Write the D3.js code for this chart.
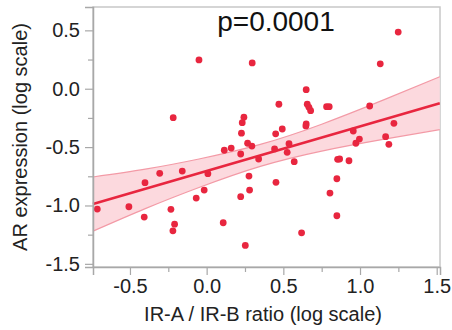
<!DOCTYPE html>
<html>
<head>
<meta charset="utf-8">
<script src="https://cdn.jsdelivr.net/npm/d3@7"></script>
<style>
  body { margin: 0; background: #fff; }
  svg { display: block; font-family: "Liberation Sans", Arial, sans-serif; }
</style>
</head>
<body>
<script>
// IR-A / IR-B ratio (log scale)
const ratio = [
  -0.050, 0.297, -0.218, 0.243, 0.232, 0.227, 0.267, 1.249, 1.132, 0.649,
  0.471, 0.656, 0.667, 0.678, 0.782, 0.799, 1.063, 0.649, 0.647, 0.493,
  0.450, 0.956, 1.221, 1.167, 0.996, 0.295, 0.115, 0.160, 0.222, 0.339,
  -0.306, -0.159, 0.008, -0.402, 0.276, 0.280, -0.016, -0.068, 0.222, -0.713,
  -0.507, -0.407, -0.233, -0.209, -0.220, 0.108, 0.252, 0.443, 0.537, 0.525,
  0.571, 0.973, 1.188, 0.854, 0.867, 0.928, 0.452, 0.849, 0.804, 0.849,
  0.619
];
// AR expression (log scale)
const expression = [
  0.247, 0.221, -0.248, -0.244, -0.291, -0.381, -0.467, 0.485, 0.213, -0.008,
  -0.133, -0.133, -0.159, -0.188, -0.154, -0.154, -0.148, -0.302, -0.319, -0.345,
  -0.386, -0.362, -0.296, -0.411, -0.431, -0.491, -0.527, -0.508, -0.559, -0.602,
  -0.725, -0.705, -0.728, -0.805, -0.748, -0.868, -0.868, -0.937, -0.925, -1.031,
  -1.011, -1.099, -1.033, -1.160, -1.217, -1.148, -1.342, -0.516, -0.471, -0.545,
  -0.625, -0.467, -0.476, -0.605, -0.602, -0.617, -0.802, -0.771, -0.894, -1.088,
  -1.234
];

// fitted line
const fitX = [-0.741, 1.52];
const fitY = [-0.988, -0.124];

// confidence band
const bandX  = [-0.741, -0.4, -0.05, 0.35, 0.75, 1.15, 1.52];
const bandLo = [-1.220, -1.027, -0.846, -0.665, -0.534, -0.434, -0.350];
const bandHi = [-0.756, -0.689, -0.602, -0.477, -0.304, -0.098, 0.102];

const xTicks = [-0.5, 0, 0.5, 1.0, 1.5];
const yTicks = [0.5, 0, -0.5, -1.0, -1.5];
const xMinor = [-0.25, 0.25, 0.75, 1.25];
const yMinor = [0.25, -0.25, -0.75, -1.25];

const pText = 'p=0.0001';
const xTitle = 'IR-A / IR-B ratio (log scale)';
const yTitle = 'AR expression (log scale)';

const W = 452, H = 330;
const plot = { left: 93, right: 440, top: 7, bottom: 267 };

const svg = d3.select('body').append('svg')
    .attr('width', W)
    .attr('height', H);

const x = d3.scaleLinear().domain([-0.741, 1.5215]).range([plot.left, plot.right]);
const y = d3.scaleLinear().domain([-1.527, 0.70]).range([plot.bottom, plot.top]);

// frame (top/right)
svg.append('rect')
    .attr('x', plot.left)
    .attr('y', plot.top)
    .attr('width', plot.right - plot.left)
    .attr('height', plot.bottom - plot.top)
    .attr('fill', 'none')
    .attr('stroke', '#c8c8c8')
    .attr('stroke-width', 1.5);

const band = d3.range(bandX.length).map(i => ({ x: bandX[i], lo: bandLo[i], hi: bandHi[i] }));

const area = d3.area()
    .x(d => x(d.x))
    .y0(d => y(d.lo))
    .y1(d => y(d.hi))
    .curve(d3.curveNatural);

svg.append('path')
    .datum(band)
    .attr('d', area)
    .attr('fill', '#fcd9de');

const edge = key => d3.line().x(d => x(d.x)).y(d => y(d[key])).curve(d3.curveNatural);
['lo', 'hi'].forEach(k => {
    svg.append('path')
        .datum(band)
        .attr('d', edge(k))
        .attr('fill', 'none')
        .attr('stroke', '#f39aa6')
        .attr('stroke-width', 1.2);
});

svg.append('line')
    .attr('x1', x(fitX[0])).attr('y1', y(fitY[0]))
    .attr('x2', x(fitX[1])).attr('y2', y(fitY[1]))
    .attr('stroke', '#e8263f')
    .attr('stroke-width', 2.5);

// points
svg.append('g').selectAll('circle')
    .data(ratio.map((r, i) => [r, expression[i]]))
    .join('circle')
    .attr('cx', d => x(d[0]))
    .attr('cy', d => y(d[1]))
    .attr('r', 3.4)
    .attr('fill', '#e8263f');

// axes
const axisColor = '#a8a8a8';

const xAxis = svg.append('g')
    .attr('transform', `translate(0,${plot.bottom})`)
    .call(d3.axisBottom(x).tickValues(xTicks).tickFormat(d3.format('.1f')).tickSize(8).tickPadding(4));

svg.append('g')
    .attr('transform', `translate(0,${plot.bottom})`)
    .call(d3.axisBottom(x).tickValues(xMinor).tickFormat('').tickSize(5))
    .call(g => g.select('.domain').remove());

const yAxis = svg.append('g')
    .attr('transform', `translate(${plot.left},0)`)
    .call(d3.axisLeft(y).tickValues(yTicks).tickFormat(d3.format('.1f')).tickSize(8).tickPadding(5));

svg.append('g')
    .attr('transform', `translate(${plot.left},0)`)
    .call(d3.axisLeft(y).tickValues(yMinor).tickFormat('').tickSize(5))
    .call(g => g.select('.domain').remove());

svg.selectAll('.domain').attr('stroke', axisColor).attr('stroke-width', 1.5);
svg.selectAll('.tick line').attr('stroke', axisColor).attr('stroke-width', 1.2);
svg.selectAll('.tick text')
    .attr('fill', '#222')
    .style('font-size', '20px')
    .style('font-family', '"Liberation Sans", Arial, sans-serif');

// d3 puts a minus sign; keep the hyphen like the reference
svg.selectAll('.tick text').text(function () { return d3.select(this).text().replace('\u2212', '-'); });

// titles
svg.append('text')
    .attr('x', 263)
    .attr('y', 321)
    .attr('text-anchor', 'middle')
    .attr('fill', '#222')
    .style('font-size', '20px')
    .text(xTitle);

svg.append('text')
    .attr('transform', `translate(27,${(plot.top + plot.bottom) / 2}) rotate(-90)`)
    .attr('text-anchor', 'middle')
    .attr('fill', '#222')
    .style('font-size', '20px')
    .text(yTitle);

svg.append('text')
    .attr('x', 276)
    .attr('y', 31)
    .attr('text-anchor', 'middle')
    .attr('fill', '#111')
    .style('font-size', '28px')
    .text(pText);
</script>
</body>
</html>
